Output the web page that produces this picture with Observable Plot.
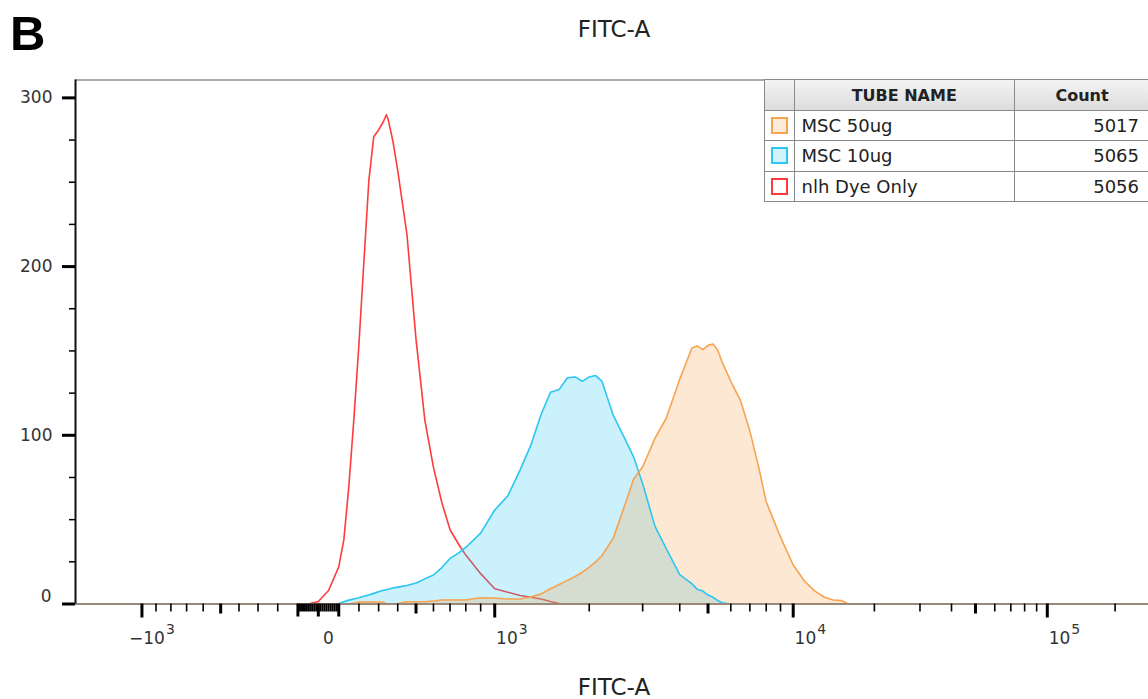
<!DOCTYPE html>
<html>
<head>
<meta charset="utf-8">
<script src="https://cdn.jsdelivr.net/npm/d3@7"></script>
<script src="https://cdn.jsdelivr.net/npm/@observablehq/plot@0.6"></script>
<style>
  html, body { margin: 0; padding: 0; background: #fff; }
  #wrap { position: relative; width: 1148px; height: 699px; overflow: hidden; font-family: "DejaVu Sans", sans-serif; }
  #wrap svg { position: absolute; left: 0; top: 0; }
  #panel { position: absolute; left: 10px; top: 9px; font: bold 49px/49px "Liberation Sans", Arial, sans-serif; color: #000; }
  .axtitle { position: absolute; left: 464px; width: 300px; text-align: center; font: 23px/23px "DejaVu Sans", sans-serif; color: #222; }
  #legend { position: absolute; left: 764px; top: 79px; display: grid;
            grid-template-columns: 29.5px 220.5px 134px; grid-template-rows: 31px 30px 30.5px 30.5px;
            border-left: 1.5px solid #8a8a8a; border-top: 1.5px solid #8a8a8a; background: #fff;
            font: 18px "DejaVu Sans", sans-serif; color: #222; }
  #legend > div { box-sizing: border-box; border-right: 1.5px solid #8a8a8a; border-bottom: 1.5px solid #8a8a8a;
                  display: flex; align-items: center; overflow: hidden; white-space: nowrap; }
  #legend > div.last { border-right: none; }
  #legend .hd { background: linear-gradient(#f4f4f4, #dcdcdc); font-weight: bold; font-size: 16px; justify-content: center; }
  #legend .sw { justify-content: center; }
  #legend .sw span { display: block; width: 13px; height: 13px; border: 2px solid; }
  #legend .nm { padding-left: 7px; }
  #legend .ct { justify-content: flex-end; padding-right: 10px; }
</style>
</head>
<body>
<div id="wrap">
  <div id="chart"></div>
  <div id="panel">B</div>
  <div class="axtitle" id="topTitle" style="top:18px">FITC-A</div>
  <div class="axtitle" id="bottomTitle" style="top:676px">FITC-A</div>
  <div id="legend"></div>
</div>
<script>
// ---------------- data ----------------
// FITC-A intensity of each histogram sample
const fitc = [-300,-200,-150,-100,-50,0,50,100,125,150,175,200,225,250,275,300,325,340,350,375,
  400,450,500,550,600,650,700,750,800,900,1000,1100,1200,1300,1400,1500,1600,1700,1800,1900,
  2000,2100,2200,2400,2600,2800,3000,3300,3600,4000,4400,4600,4800,5000,5200,5400,5600,6000,6500,7000,
  7500,8000,9000,10000,11000,12000,13000,14000,15000,16000,17000,20000];

// counts per tube
const dyeOnly = [0,0,0,0,0, 1.5,8,22,38,70, 110,154,203,251,277, 281,286,290,287,274,
  257,219,157,109,81, 60,44,36,29,18, 9,7,5,4,3, 1.5,0.3,0,0,0,
  0,0,0,0,0, 0,0,0,0,0, 0,0,0,0,0, 0,0,0,0,0,
  0,0,0,0,0, 0,0,0,0,0, 0,0];
const msc10 = [0,0,0,0,0, 0,0,0.3,1.3,2.3, 3.0,3.7,4.6,5.3,6.3, 7.3,8.1,8.5,8.8,9.5,
  10.0,11.0,12.5,14.9,17.2, 21.6,27,30.0,33.5,42, 55.7,64.2,79.2,94.3,112.3, 125.5,127.2,134.1,134.6,132.0,
  134.6,135.4,132.1,111.6,99.1, 87.1,71.3,46.0,32.8,17.4, 12.1,8.6,7.7,5.3,4.0, 2.1,0.7,0,0,0,
  0,0,0,0,0, 0,0,0,0,0, 0,0];
const msc50 = [0,0,0,0,0, 0,0,0,0,0, 0.5,1.2,1.2,1.2,1.2, 1.2,1.0,0,0,0,
  0.3,1.3,1.3,1.3,1.8, 2.4,2.4,2.4,2.4,3.7, 3.6,3.0,3.0,4.2,6.0, 9.0,11.6,14.0,16.3,18.8,
  21.8,25.0,28.6,39.2,57.2, 74.1,81.2,98.3,110.1,133.2, 151.7,152.9,150.8,153.3,154.1, 150.6,143.2,132.0,120.2,102.5,
  82.0,60.6,39.6,23.1,13.5, 7.6,4.0,2.4,2.1,0, 0,0];

// legend table
const tubeNames = ["MSC 50ug", "MSC 10ug", "nlh Dye Only"];
const tubeCounts = [5017, 5065, 5056];

// axes
const xView = [-1623, 286000];       // visible FITC-A range
const yTop = 310.6;                   // visible count range top
const yMajor = [0, 100, 200, 300];
const yMinor = [25, 50, 75, 125, 150, 175, 225, 250, 275];
const xDecade = [-1000, 1000, 10000, 100000];
const xHalf = [-500, 500, 5000, 50000];
const xZero = [-100, 0, 100];
const xMinor = [-900,-800,-700,-600,-400,-300,-200, 200,300,400,600,700,800,900,
  2000,3000,4000,6000,7000,8000,9000, 20000,30000,40000,60000,70000,80000,90000, 200000];
const xLinear = [-90,-80,-70,-60,-50,-40,-30,-20,-10,10,20,30,40,50,60,70,80,90];
const xPowerLabels = [
  {v: -1000, base: "\u221210", exp: "3"},
  {v: 1000, base: "10", exp: "3"},
  {v: 10000, base: "10", exp: "4"},
  {v: 100000, base: "10", exp: "5"}
];
const xZeroLabel = [{v: 0, text: "0"}];

// styles
const colors = {dye: "#ff3b3b", m10: "#2cc6f2", m50: "#f7a350"};

// ---------------- biexponential-like display transform ----------------
function T(v) {
  const a = Math.abs(v);
  let f;
  if (a <= 1000) f = 184.1 * Math.asinh(a / 900);
  else { const t = Math.log10(a / 1000); f = 176.3 + 320.6 * t - 22.2 * t * t; }
  return Math.sign(v) * f;
}

const rows = fitc.map((v, i) => ({v, dye: dyeOnly[i], m10: msc10[i], m50: msc50[i]}));
const X = d => T(d.v);
const tickOpts = {tickFormat: () => "", label: null, stroke: "#000"};

const plot = Plot.plot({
  width: 1148, height: 699,
  marginTop: 79.5, marginRight: 0, marginBottom: 95.5, marginLeft: 75,
  x: {type: "linear", domain: xView.map(T), axis: null},
  y: {type: "linear", domain: [0, yTop], axis: null},
  style: {fontFamily: '"DejaVu Sans", sans-serif', background: "transparent", color: "#333"},
  marks: [
    Plot.lineY(rows, {x: X, y: "dye", stroke: colors.dye, strokeWidth: 1.6}),
    Plot.areaY(rows, {x: X, y: "m10", fill: colors.m10, fillOpacity: 0.25}),
    Plot.areaY(rows, {x: X, y: "m50", fill: colors.m50, fillOpacity: 0.25}),
    Plot.lineY(rows, {x: X, y: "m10", stroke: colors.m10, strokeWidth: 1.6}),
    Plot.lineY(rows, {x: X, y: "m50", stroke: colors.m50, strokeWidth: 1.6}),
    Plot.ruleY([0], {stroke: "#9a8878", strokeWidth: 2}),
    Plot.ruleY([yTop], {stroke: "#8c8c8c", strokeWidth: 1.3}),
    Plot.ruleX([xView[0]], {x: T, stroke: "#111", strokeWidth: 2}),
    // y axis
    Plot.axisY(yMajor, {tickSize: 13, strokeWidth: 3, tickPadding: 10, fontSize: 17, label: null,
      stroke: "#000", fill: "#333", tickFormat: d => d === 0 ? "" : String(d)}),
    Plot.axisY(yMinor, {tickSize: 6, strokeWidth: 1.5, ...tickOpts}),
    Plot.text([0], {y: d => d, frameAnchor: "left", dx: -24, dy: -7, textAnchor: "end", fontSize: 17, fill: "#333", text: d => String(d)}),
    // x axis ticks
    Plot.axisX(xDecade.map(T), {tickSize: 14, strokeWidth: 3, ...tickOpts}),
    Plot.axisX(xHalf.map(T), {tickSize: 10, strokeWidth: 3, ...tickOpts}),
    Plot.axisX(xZero.map(T), {tickSize: 13, strokeWidth: 3, ...tickOpts}),
    Plot.axisX(xMinor.map(T), {tickSize: 8, strokeWidth: 1.6, ...tickOpts}),
    Plot.axisX(xLinear.map(T), {tickSize: 8, strokeWidth: 2, ...tickOpts}),
    // x tick labels
    Plot.text(xPowerLabels, {x: X, text: "base", frameAnchor: "bottom", dx: 23, dy: 40, textAnchor: "end", fontSize: 17, fill: "#333"}),
    Plot.text(xPowerLabels, {x: X, text: "exp", frameAnchor: "bottom", dx: 24, dy: 30, textAnchor: "start", fontSize: 14, fill: "#333"}),
    Plot.text(xZeroLabel, {x: X, text: "text", frameAnchor: "bottom", dx: 10, dy: 40, textAnchor: "middle", fontSize: 17, fill: "#333"})
  ]
});
document.getElementById("chart").appendChild(plot);

// legend table
const legend = document.getElementById("legend");
const cell = (cls, html) => { const d = document.createElement("div"); d.className = cls; d.innerHTML = html; legend.appendChild(d); return d; };
cell("hd", "");
cell("hd", "TUBE NAME");
cell("hd last", "Count");
const swatchFill = [colors.m50, colors.m10, null];
const swatchStroke = [colors.m50, colors.m10, colors.dye];
tubeNames.forEach((name, i) => {
  const sw = cell("sw", "<span></span>");
  const s = sw.firstChild;
  s.style.borderColor = swatchStroke[i];
  s.style.background = swatchFill[i] ? d3.color(swatchFill[i]).copy({opacity: 0.22}).toString() : "#fff";
  cell("nm", name);
  cell("ct last", String(tubeCounts[i]));
});
</script>
</body>
</html>
